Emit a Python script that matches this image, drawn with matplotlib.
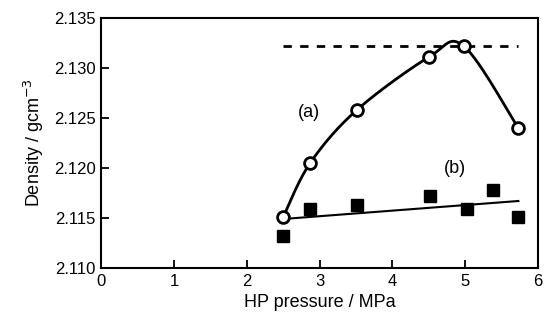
import matplotlib
matplotlib.use("Agg")
import matplotlib.pyplot as plt
import numpy as np

plt.rcParams['font.family'] = ['Liberation Sans', 'DejaVu Sans']

# series (a): open circles, smooth curve
a_x = [2.5, 2.87, 3.51, 4.5, 4.98, 5.73]
a_y = [2.1151, 2.1205, 2.1258, 2.1311, 2.1322, 2.1240]

# series (b): filled squares, straight fit line
b_x = [2.5, 2.87, 3.52, 4.51, 5.02, 5.38, 5.73]
b_y = [2.1132, 2.1159, 2.1163, 2.1172, 2.1159, 2.1178, 2.1151]
b_fit_x = [2.5, 5.73]
b_fit_y = [2.1149, 2.1167]

# dashed reference level
ref_x = [2.5, 5.73]
ref_y = 2.1322


def catmull_rom(xs, ys, n=30):
    # smooth curve through the points, only for drawing the line
    px = np.array([xs[0]] + list(xs) + [xs[-1]])
    py = np.array([ys[0]] + list(ys) + [ys[-1]])
    out_x, out_y = [], []
    t = np.linspace(0, 1, n)
    for i in range(1, len(px) - 2):
        for arr, out in ((px, out_x), (py, out_y)):
            p0, p1, p2, p3 = arr[i - 1], arr[i], arr[i + 1], arr[i + 2]
            out.extend(0.5 * ((2 * p1) + (-p0 + p2) * t
                              + (2 * p0 - 5 * p1 + 4 * p2 - p3) * t ** 2
                              + (-p0 + 3 * p1 - 3 * p2 + p3) * t ** 3))
    return out_x, out_y


fig = plt.figure(figsize=(5.44, 3.24), dpi=100)
ax = fig.add_axes([0.186, 0.173, 0.803, 0.771])

ax.plot(ref_x, [ref_y, ref_y], color='black', lw=2, ls=(0, (3, 3)))

cx, cy = catmull_rom(a_x, a_y)
ax.plot(cx, cy, color='black', lw=2)
ax.plot(b_fit_x, b_fit_y, color='black', lw=1.5)

ax.plot(b_x, b_y, 's', color='black', ms=9)
ax.plot(a_x, a_y, 'o', mfc='white', mec='black', mew=2, ms=8.5)

ax.text(2.85, 2.1256, '(a)', fontsize=13, ha='center', va='center')
ax.text(4.86, 2.1200, '(b)', fontsize=13, ha='center', va='center')

ax.set_xlim(0, 6)
ax.set_ylim(2.110, 2.135)
ax.set_xticks(range(0, 7))
ax.set_yticks([2.110, 2.115, 2.120, 2.125, 2.130, 2.135])
ax.set_yticklabels(['2.110', '2.115', '2.120', '2.125', '2.130', '2.135'])
ax.tick_params(direction='in', length=6, width=1.3, labelsize=12, pad=4)
for s in ax.spines.values():
    s.set_linewidth(1.5)

ax.set_xlabel('HP pressure / MPa', fontsize=13, labelpad=4)
ax.set_ylabel('Density / gcm$^{-3}$', fontsize=13, labelpad=6)

fig.savefig('out.png', dpi=100)
